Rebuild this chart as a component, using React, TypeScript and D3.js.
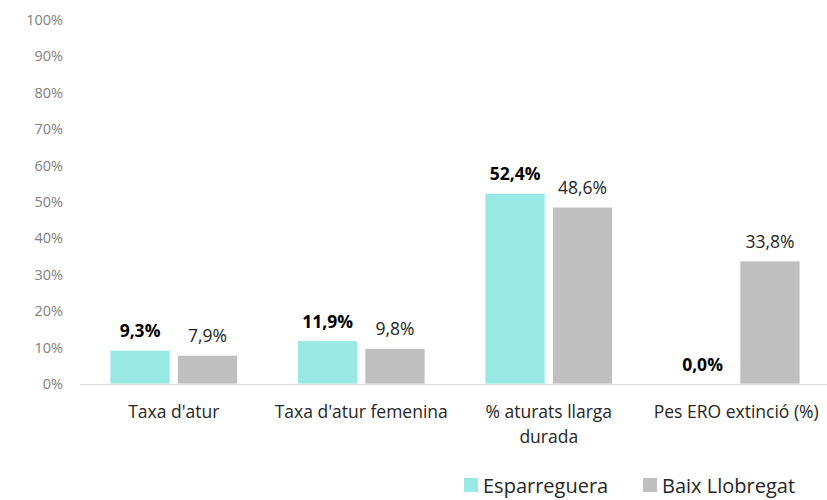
import * as d3 from "d3";
import { useEffect, useRef } from "react";

const categories = [
  ["Taxa d'atur"],
  ["Taxa d'atur femenina"],
  ["% aturats llarga", "durada"],
  ["Pes ERO extinció (%)"],
];
const seriesNames = ["Esparreguera", "Baix Llobregat"];
const esparreguera = [9.3, 11.9, 52.4, 0.0];
const baixLlobregat = [7.9, 9.8, 48.6, 33.8];
const yTicks = [0, 10, 20, 30, 40, 50, 60, 70, 80, 90, 100];

const colors = ["#98E8E4", "#BFBFBF"];
const font = "'Open Sans', sans-serif";

const App = () => {
  const svgRef = useRef<SVGSVGElement>(null);

  useEffect(() => {
    const svg = d3.select(svgRef.current);
    svg.selectAll("*").remove();

    const W = 827;
    const H = 500;
    const margin = { top: 20, right: -3, bottom: 116, left: 80 };
    const width = W - margin.left - margin.right;
    const height = H - margin.top - margin.bottom;

    svg.attr("width", W).attr("height", H);
    const g = svg
      .append("g")
      .attr("transform", `translate(${margin.left},${margin.top})`);

    const idx = categories.map((_, i) => i);
    const x0 = d3
      .scaleBand<number>()
      .domain(idx)
      .range([0, width])
      .paddingInner(0.32)
      .paddingOuter(0.16);
    const x1 = d3
      .scaleBand<number>()
      .domain([0, 1])
      .range([0, x0.bandwidth()])
      .paddingInner(0.11);
    const y = d3.scaleLinear().domain([0, 100]).range([height, 0]);

    // y tick labels
    g.selectAll(".ytick")
      .data(yTicks)
      .enter()
      .append("text")
      .attr("x", -17)
      .attr("y", (d) => y(d))
      .attr("dy", "0.35em")
      .attr("text-anchor", "end")
      .style("font-family", font)
      .style("font-size", "14.5px")
      .style("fill", "#808080")
      .text((d) => `${d}%`);

    const series = [esparreguera, baixLlobregat];

    series.forEach((vals, s) => {
      const grp = g
        .selectAll(`.bar-${s}`)
        .data(vals)
        .enter()
        .append("g")
        .attr("class", `bar-${s}`)
        .attr("transform", (_, i) => `translate(${x0(i)},0)`);

      grp
        .append("rect")
        .attr("x", x1(s) || 0)
        .attr("y", (d) => y(d))
        .attr("width", x1.bandwidth())
        .attr("height", (d) => height - y(d))
        .attr("fill", colors[s])
        .attr("stroke", "#fff")
        .attr("stroke-width", 0.8);

      grp
        .append("text")
        .attr("x", (x1(s) || 0) + x1.bandwidth() / 2)
        .attr("y", (d) => y(d) - 13)
        .attr("text-anchor", "middle")
        .style("font-family", font)
        .style("font-size", "17.5px")
        .style("font-weight", s === 0 ? "bold" : "normal")
        .style("fill", s === 0 ? "#000" : "#262626")
        .text((d) => `${d.toFixed(1).replace(".", ",")}%`);
    });

    // x axis line
    g.append("line")
      .attr("x1", 0)
      .attr("x2", width)
      .attr("y1", height + 0.5)
      .attr("y2", height + 0.5)
      .attr("stroke", "#D9D9D9")
      .attr("stroke-width", 1);

    // category labels
    const cat = g
      .selectAll(".cat")
      .data(categories)
      .enter()
      .append("text")
      .attr("text-anchor", "middle")
      .style("font-family", font)
      .style("font-size", "17.5px")
      .style("fill", "#262626");
    cat
      .selectAll("tspan")
      .data((d, i) => d.map((t) => ({ t, i })))
      .enter()
      .append("tspan")
      .attr("x", (d) => (x0(d.i) || 0) + x0.bandwidth() / 2)
      .attr("y", (_, j) => height + 34 + j * 25)
      .text((d) => d.t);

    // legend
    const legendX = [464, 643];
    const legend = svg
      .selectAll(".legend")
      .data(seriesNames)
      .enter()
      .append("g")
      .attr("class", "legend")
      .attr("transform", (_, i) => `translate(${legendX[i]},478)`);
    legend
      .append("rect")
      .attr("width", 14)
      .attr("height", 14)
      .attr("fill", (_, i) => colors[i]);
    legend
      .append("text")
      .attr("x", 19)
      .attr("y", 15)
      .style("font-family", font)
      .style("font-size", "20px")
      .style("fill", "#262626")
      .text((d) => d);
  }, []);

  return <svg ref={svgRef} style={{ position: "absolute", left: 0, top: 0 }}></svg>;
};

export default App;
